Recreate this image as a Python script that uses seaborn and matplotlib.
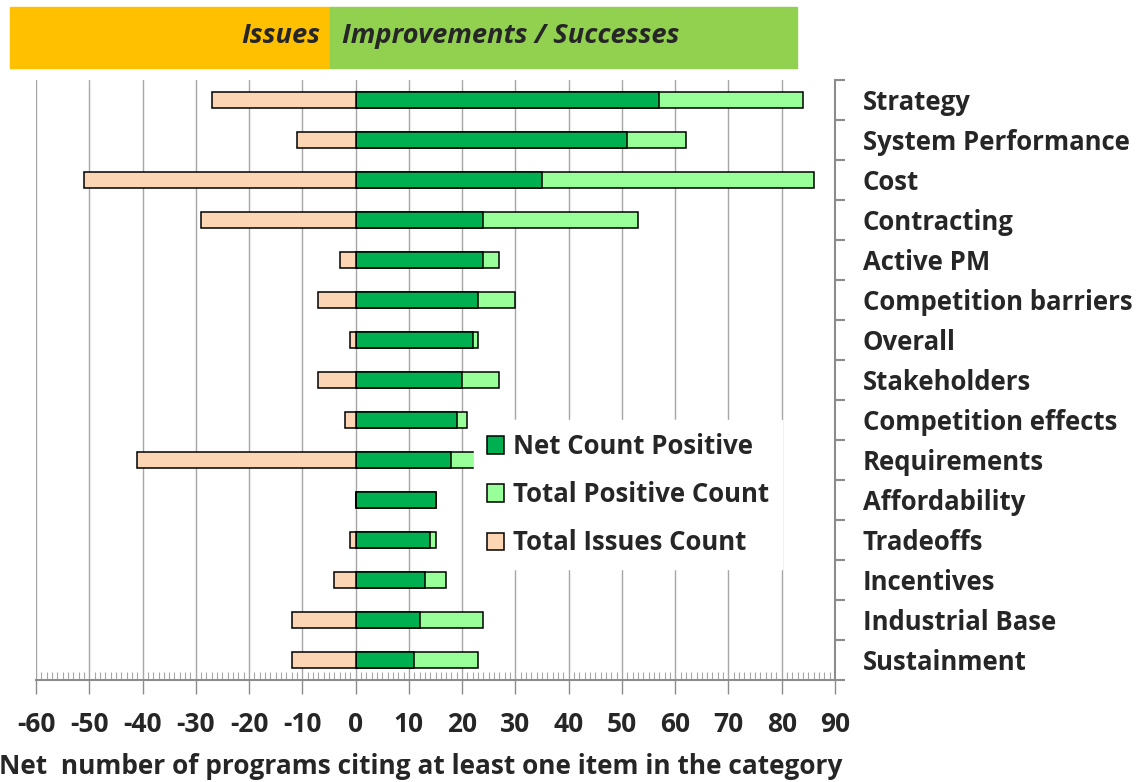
import matplotlib
matplotlib.use("Agg")
import matplotlib.pyplot as plt
import matplotlib.ticker as mticker
from matplotlib.patches import Rectangle
import numpy as np
import seaborn as sns

categories = ["Strategy", "System Performance", "Cost", "Contracting", "Active PM",
              "Competition barriers", "Overall", "Stakeholders", "Competition effects",
              "Requirements", "Affordability", "Tradeoffs", "Incentives",
              "Industrial Base", "Sustainment"]
net_positive = [57, 51, 35, 24, 24, 23, 22, 20, 19, 18, 15, 14, 13, 12, 11]
total_positive = [84, 62, 86, 53, 27, 30, 23, 27, 21, 59, 15, 15, 17, 24, 23]
total_issues = [-27, -11, -51, -29, -3, -7, -1, -7, -2, -41, 0, -1, -4, -12, -12]

sns.set_style("white")
FONT = ["Open Sans", "DejaVu Sans"]
plt.rcParams["font.family"] = FONT
plt.rcParams["font.weight"] = "bold"
plt.rcParams["axes.unicode_minus"] = False

fig = plt.figure(figsize=(11.45, 7.82), dpi=100)
ax = fig.add_axes([36 / 1145, 1 - 680 / 782, 799 / 1145, 600 / 782])

bar_kw = dict(y=categories, orient="h", width=0.4, edgecolor="black", saturation=1,
              linewidth=1.1, ax=ax, zorder=3)
sns.barplot(x=total_positive, color="#99FF99", label="Total Positive Count", **bar_kw)
sns.barplot(x=net_positive, color="#00B050", label="Net Count Positive", **bar_kw)
sns.barplot(x=total_issues, color="#FCD5B5", label="Total Issues Count", **bar_kw)

ax.set_xlim(-60, 90)
ax.set_ylim(14.5, -0.5)
ax.xaxis.set_major_locator(mticker.MultipleLocator(10))
ax.xaxis.set_minor_locator(mticker.MultipleLocator(1))
ax.grid(axis="x", color="#A6A6A6", linewidth=1, zorder=0)
ax.set_axisbelow(True)

for side in ["top", "left"]:
    ax.spines[side].set_visible(False)
for side in ["right", "bottom"]:
    ax.spines[side].set_color("#8C8C8C")
    ax.spines[side].set_linewidth(1.5)

ax.tick_params(axis="x", which="major", bottom=True, direction="out", length=10,
               color="#8C8C8C", width=1, labelsize=19, pad=12)
ax.tick_params(axis="x", which="minor", bottom=True, direction="in", length=6,
               color="#A6A6A6", width=0.8)
ax.set_xlabel("Net  number of programs citing at least one item in the category",
              fontsize=18.9, fontweight="bold", labelpad=11)
ax.xaxis.label.set_x(0.482)

ax.yaxis.tick_right()
ax.set_yticks(np.arange(len(categories)))
ax.set_yticklabels(categories)
ax.set_yticks(np.arange(len(categories) + 1) - 0.5, minor=True)
ax.tick_params(axis="y", which="major", length=0, labelsize=18.5, pad=20)
ax.tick_params(axis="y", which="minor", right=True, direction="out", length=7, width=1.5,
               color="#8C8C8C")
ax.set_ylabel("")

handles, labels = ax.get_legend_handles_labels()
order = [labels.index(n) for n in ["Net Count Positive", "Total Positive Count",
                                    "Total Issues Count"]]
leg = ax.legend([handles[i] for i in order], [labels[i] for i in order],
                loc="upper left", bbox_to_anchor=(0.548, 0.433), borderaxespad=0,
                frameon=True, fontsize=18.5, handlelength=0.66, handleheight=0.66,
                handletextpad=0.35, labelspacing=0.82, borderpad=0.5,
                fancybox=False, framealpha=1)
leg.get_frame().set_edgecolor("white")
leg.set_zorder(5)
for t in leg.get_texts():
    t.set_fontweight("bold")

# banner above the chart
fig.patches.append(Rectangle((10 / 1145, 1 - 68 / 782), 320 / 1145, 61 / 782,
                             transform=fig.transFigure, color="#FFC000", zorder=0))
fig.patches.append(Rectangle((330 / 1145, 1 - 68 / 782), 467 / 1145, 61 / 782,
                             transform=fig.transFigure, color="#92D050", zorder=0))
fig.text(320 / 1145, 1 - 36 / 782, "Issues", ha="right", va="center",
         fontsize=19.6, fontweight="bold", style="italic")
fig.text(342 / 1145, 1 - 36 / 782, "Improvements / Successes", ha="left", va="center",
         fontsize=19.6, fontweight="bold", style="italic")

fig.savefig("out.png", dpi=100)
